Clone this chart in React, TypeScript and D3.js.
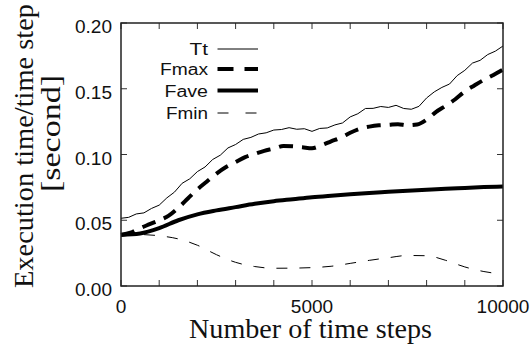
import React from "react";
import * as d3 from "d3";

// ---- data ----
const ttSteps = d3.range(0, 10001, 200);
const ttValues = [
  0.0515, 0.0522, 0.0548, 0.0556, 0.059, 0.0615, 0.067, 0.0714, 0.0781, 0.0815,
  0.087, 0.0905, 0.0962, 0.0995, 0.105, 0.1076, 0.1115, 0.113, 0.1156, 0.1165,
  0.1186, 0.119, 0.1204, 0.1192, 0.1196, 0.1176, 0.1198, 0.1202, 0.1225, 0.124,
  0.1286, 0.131, 0.135, 0.1351, 0.1365, 0.1358, 0.1374, 0.135, 0.1344, 0.1366,
  0.143, 0.1476, 0.151, 0.1536, 0.16, 0.164, 0.1695, 0.1716, 0.176, 0.1786,
  0.1825,
];
const fmaxSteps = d3.range(0, 10001, 250);
const fmaxValues = [
  0.0388, 0.0405, 0.044, 0.047, 0.05, 0.0535, 0.0595, 0.0665, 0.0735, 0.0795,
  0.0855, 0.0905, 0.0942, 0.098, 0.1005, 0.1028, 0.1045, 0.1065, 0.1062, 0.1055,
  0.1048, 0.107, 0.11, 0.1128, 0.1165, 0.1195, 0.1212, 0.1222, 0.1225, 0.123,
  0.1222, 0.1228, 0.1265, 0.1325, 0.137, 0.142, 0.148, 0.1525, 0.1568, 0.1605,
  0.1645,
];
const smoothSteps = d3.range(0, 10001, 500);
const faveValues = [
  0.039, 0.04, 0.044, 0.05, 0.0545, 0.0575, 0.06, 0.0625, 0.0645, 0.066, 0.0675,
  0.0687, 0.0698, 0.0708, 0.0716, 0.0724, 0.0732, 0.074, 0.0746, 0.0752, 0.0757,
];
const fminValues = [
  0.0395, 0.0392, 0.0382, 0.0358, 0.031, 0.0238, 0.018, 0.0148, 0.0135, 0.0136,
  0.014, 0.015, 0.0172, 0.0195, 0.0215, 0.0232, 0.023, 0.0195, 0.0145, 0.011,
  0.009,
];
const xTickLabels = [0, 5000, 10000];
const xMinorTicks = d3.range(0, 10001, 1000);
const yTicks = [0, 0.05, 0.1, 0.15, 0.2];
const seriesNames = ["Tt", "Fmax", "Fave", "Fmin"];

const W = 532;
const H = 352;
const L = 121, R = 503, T = 23, B = 286;

const x = d3.scaleLinear().domain([0, 10000]).range([L, R]);
const y = d3.scaleLinear().domain([0, 0.2]).range([B, T]);

const styles: Record<string, { w: number; dash?: string }> = {
  Tt: { w: 1 },
  Fmax: { w: 4, dash: "14 9" },
  Fave: { w: 4 },
  Fmin: { w: 1, dash: "11 12" },
};

const seriesData: Record<string, [number, number][]> = {
  Tt: ttSteps.map((s, i) => [s, ttValues[i]] as [number, number]),
  Fmax: fmaxSteps.map((s, i) => [s, fmaxValues[i]] as [number, number]),
  Fave: smoothSteps.map((s, i) => [s, faveValues[i]] as [number, number]),
  Fmin: smoothSteps.map((s, i) => [s, fminValues[i]] as [number, number]),
};

const legendLineY: Record<string, number> = { Tt: 49, Fmax: 69, Fave: 90.5, Fmin: 113 };
const legendTextW: Record<string, number> = { Tt: 18.5, Fmax: 48, Fave: 43.5, Fmin: 42 };

export default function App() {
  const lineSmooth = d3
    .line<[number, number]>()
    .x((d) => x(d[0]))
    .y((d) => y(d[1]))
    .curve(d3.curveMonotoneX);
  const lineRaw = d3
    .line<[number, number]>()
    .x((d) => x(d[0]))
    .y((d) => y(d[1]));

  const sans = "Liberation Sans";
  const serif = "Liberation Serif";

  return (
    <svg
      width={W}
      height={H}
      style={{ position: "absolute", left: 0, top: 0, background: "#fff" }}
    >
      <rect x={0} y={0} width={W} height={H} fill="#fff" />
      {/* ticks */}
      {xMinorTicks.map((t) => (
        <g key={"xt" + t} stroke="#333" strokeWidth={1}>
          <line x1={x(t)} x2={x(t)} y1={B} y2={B - 6} />
          <line x1={x(t)} x2={x(t)} y1={T} y2={T + 6} />
        </g>
      ))}
      {yTicks.map((t) => (
        <g key={"yt" + t} stroke="#333" strokeWidth={1}>
          <line x1={L} x2={L + 6} y1={y(t)} y2={y(t)} />
          <line x1={R} x2={R - 6} y1={y(t)} y2={y(t)} />
        </g>
      ))}
      {/* series */}
      {seriesNames.map((n) => (
        <path
          key={n}
          d={(n === "Tt" ? lineRaw : lineSmooth)(seriesData[n]) || ""}
          fill="none"
          stroke="#000"
          strokeWidth={styles[n].w}
          strokeDasharray={styles[n].dash}
          strokeLinejoin="round"
        />
      ))}
      {/* frame */}
      <rect x={L} y={T} width={R - L} height={B - T} fill="none" stroke="#222" strokeWidth={1.5} />
      {/* y tick labels */}
      {yTicks.map((t) => (
        <text
          key={"yl" + t}
          x={112}
          y={y(t) + 10}
          textAnchor="end"
          fontFamily={sans}
          fontSize={19}
          fill="#111"
        >
          {d3.format(".2f")(t)}
        </text>
      ))}
      {/* x tick labels */}
      {xTickLabels.map((t) => (
        <text
          key={"xl" + t}
          x={x(t)}
          y={313}
          textAnchor="middle"
          fontFamily={sans}
          fontSize={19}
          fill="#111"
        >
          {t}
        </text>
      ))}
      {/* axis titles */}
      <text
        x={310.5 - 121.5}
        y={338}
        fontFamily={serif}
        fontSize={27}
        textLength={243}
        lengthAdjust="spacingAndGlyphs"
        fill="#111"
      >
        Number of time steps
      </text>
      <g transform="translate(33,146) rotate(-90)">
        <text
          x={-142}
          y={0}
          fontFamily={serif}
          fontSize={27}
          textLength={284}
          lengthAdjust="spacingAndGlyphs"
          fill="#111"
        >
          Execution time/time step
        </text>
      </g>
      <g transform="translate(60,133.5) rotate(-90)">
        <text
          x={-58.5}
          y={0}
          fontFamily={serif}
          fontSize={27}
          textLength={117}
          lengthAdjust="spacingAndGlyphs"
          fill="#111"
        >
          [second]
        </text>
      </g>
      {/* legend */}
      {seriesNames.map((n) => (
        <g key={"lg" + n}>
          <text
            x={208 - legendTextW[n]}
            y={legendLineY[n] + 6}
            fontFamily={sans}
            fontSize={16}
            textLength={legendTextW[n]}
            lengthAdjust="spacingAndGlyphs"
            fill="#111"
          >
            {n}
          </text>
          <line
            x1={217.5}
            x2={258}
            y1={legendLineY[n]}
            y2={legendLineY[n]}
            stroke="#000"
            strokeWidth={styles[n].w}
            strokeDasharray={n === "Fmax" ? "16 11" : n === "Fmin" ? "11 17" : undefined}
          />
        </g>
      ))}
    </svg>
  );
}
